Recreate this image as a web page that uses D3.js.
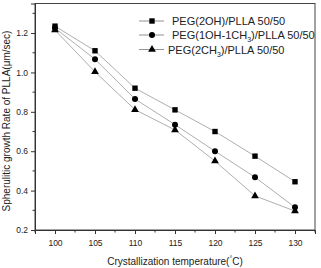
<!DOCTYPE html>
<html>
<head>
<meta charset="utf-8">
<script src="https://cdn.jsdelivr.net/npm/d3@7"></script>
<style>
  body { margin: 0; background: #fff; }
  svg text { font-family: "Liberation Sans", Arial, sans-serif; fill: #222; }
</style>
</head>
<body>
<div id="chart"></div>
<script>
// Spherulitic growth rate of PLLA vs crystallization temperature, three PEG blends.
const temps = [100, 105, 110, 115, 120, 125, 130];
const peg2OH = [1.235, 1.11, 0.92, 0.81, 0.70, 0.575, 0.445];
const peg1OH1CH3 = [1.225, 1.067, 0.865, 0.735, 0.60, 0.468, 0.315];
const peg2CH3 = [1.215, 1.003, 0.811, 0.708, 0.55, 0.373, 0.296];
const xTicks = [100, 105, 110, 115, 120, 125, 130];
const yTicks = [0.2, 0.4, 0.6, 0.8, 1.0, 1.2];

const series = [
  { name: "PEG(2OH)/PLLA 50/50", values: peg2OH, marker: "square" },
  { name: ["PEG(1OH-1CH", "3", ")/PLLA 50/50"], values: peg1OH1CH3, marker: "circle" },
  { name: ["PEG(2CH", "3", ")/PLLA 50/50"], values: peg2CH3, marker: "triangle" },
];

const width = 321, height = 268;
const m = { top: 3.5, right: 6, bottom: 38, left: 35 };
const iw = width - m.left - m.right;
const ih = height - m.top - m.bottom;

const svg = d3.select("#chart").append("svg")
  .attr("width", width).attr("height", height);
const g = svg.append("g").attr("transform", `translate(${m.left},${m.top})`);

const x = d3.scaleLinear().domain([97.5, 132.5]).range([0, iw]);
const y = d3.scaleLinear().domain([0.2, 1.35]).range([ih, 0]);

// frame
g.append("rect").attr("width", iw).attr("height", ih)
  .attr("fill", "none").attr("stroke", "#444").attr("stroke-width", 1);

// bottom axis: major + minor ticks
const xAxis = g.append("g").attr("transform", `translate(0,${ih})`);
xAxis.call(d3.axisBottom(x).tickValues(xTicks).tickSize(4).tickPadding(6).tickFormat(d3.format("d")));
xAxis.append("g").selectAll("line").data(d3.range(97.5, 133, 5)).join("line")
  .attr("x1", (d) => x(d)).attr("x2", (d) => x(d)).attr("y1", 0).attr("y2", 2.5)
  .attr("stroke", "#333");

const yAxis = g.append("g");
yAxis.call(d3.axisLeft(y).tickValues(yTicks).tickSize(4).tickPadding(3).tickFormat(d3.format(".1f")));
yAxis.append("g").selectAll("line").data([0.3, 0.5, 0.7, 0.9, 1.1, 1.3]).join("line")
  .attr("x1", 0).attr("x2", -2.5).attr("y1", (d) => y(d)).attr("y2", (d) => y(d))
  .attr("stroke", "#333");

[xAxis, yAxis].forEach((a) => {
  a.select(".domain").attr("stroke", "#333");
  a.selectAll(".tick line").attr("stroke", "#333");
  a.selectAll(".tick text").attr("font-size", 8.5).attr("fill", "#333")
    .attr("font-family", "'Liberation Sans', Arial, sans-serif");
});

function drawMarker(sel, type) {
  if (type === "square") {
    sel.append("rect").attr("x", -2.7).attr("y", -2.7).attr("width", 5.4).attr("height", 5.4).attr("fill", "#000");
  } else if (type === "circle") {
    sel.append("circle").attr("r", 3).attr("fill", "#000");
  } else {
    sel.append("path").attr("d", d3.symbol(d3.symbolTriangle, 26)()).attr("fill", "#000");
  }
}

const line = d3.line().x((d, i) => x(temps[i])).y((d) => y(d));
series.forEach((s) => {
  g.append("path").datum(s.values).attr("d", line)
    .attr("fill", "none").attr("stroke", "#999").attr("stroke-width", 0.8);
});
series.forEach((s) => {
  g.append("g").selectAll("g").data(s.values).join("g")
    .attr("transform", (d, i) => `translate(${x(temps[i])},${y(d)})`)
    .each(function () { drawMarker(d3.select(this), s.marker); });
});

// legend
const legRows = [21, 35, 49.5];
const legText = [172, 172, 168];
series.forEach((s, i) => {
  const row = svg.append("g").attr("transform", `translate(0,${legRows[i]})`);
  row.append("line").attr("x1", 139).attr("x2", 164).attr("y1", 0).attr("y2", 0)
    .attr("stroke", "#777").attr("stroke-width", 0.8);
  const mk = row.append("g").attr("transform", "translate(152,0)");
  drawMarker(mk, s.marker);
  const t = row.append("text").attr("x", legText[i]).attr("y", 4).attr("font-size", 11);
  if (typeof s.name === "string") {
    t.text(s.name);
  } else {
    t.append("tspan").text(s.name[0]);
    t.append("tspan").attr("font-size", 7).attr("dy", 3).text(s.name[1]);
    t.append("tspan").attr("dy", -3).text(s.name[2]);
  }
});

// axis titles
const xt = svg.append("text").attr("x", 175).attr("y", 265).attr("text-anchor", "middle")
  .attr("font-size", 10);
xt.append("tspan").text("Crystallization temperature(");
xt.append("tspan").attr("font-size", 7).attr("dy", -4).text("°");
xt.append("tspan").attr("dy", 4).text("C)");

svg.append("text").attr("transform", "translate(9.5,121) rotate(-90)")
  .attr("text-anchor", "middle").attr("font-size", 10)
  .text("Spherulitic growth Rate of PLLA(μm/sec)");
</script>
</body>
</html>
